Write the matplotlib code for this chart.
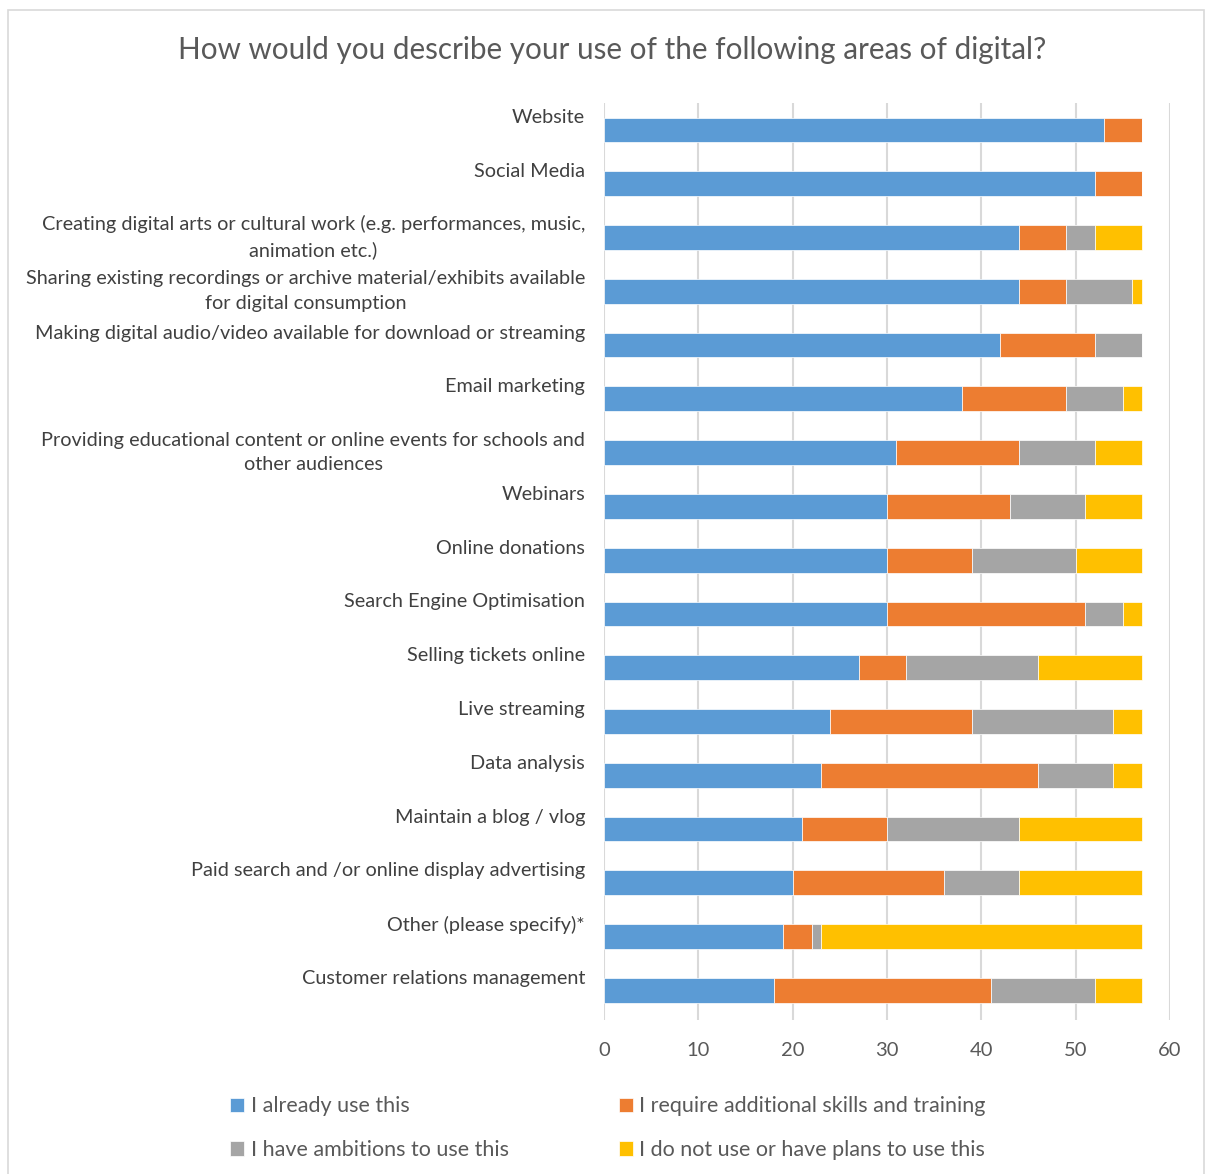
import matplotlib
matplotlib.use("Agg")
import matplotlib.pyplot as plt
from matplotlib.patches import Rectangle
import matplotlib.transforms as mtransforms

plt.rcParams['font.family'] = ['Lato', 'DejaVu Sans']

categories = [
    "Website",
    "Social Media",
    "Creating digital arts or cultural work (e.g. performances, music,\nanimation etc.)",
    "Sharing existing recordings or archive material/exhibits available\nfor digital consumption",
    "Making digital audio/video available for download or streaming",
    "Email marketing",
    "Providing educational content or online events for schools and\nother audiences",
    "Webinars",
    "Online donations",
    "Search Engine Optimisation",
    "Selling tickets online",
    "Live streaming",
    "Data analysis",
    "Maintain a blog / vlog",
    "Paid search and /or online display advertising",
    "Other (please specify)*",
    "Customer relations management",
]

already_use = [53, 52, 44, 44, 42, 38, 31, 30, 30, 30, 27, 24, 23, 21, 20, 19, 18]
require_training = [4, 5, 5, 5, 10, 11, 13, 13, 9, 21, 5, 15, 23, 9, 16, 3, 23]
ambitions = [0, 0, 3, 7, 5, 6, 8, 8, 11, 4, 14, 15, 8, 14, 8, 1, 11]
no_plans = [0, 0, 5, 1, 0, 2, 5, 6, 7, 2, 11, 3, 3, 13, 13, 34, 5]

series_names = [
    "I already use this",
    "I require additional skills and training",
    "I have ambitions to use this",
    "I do not use or have plans to use this",
]
colors = ["#5B9BD5", "#ED7D31", "#A5A5A5", "#FFC000"]
x_ticks = [0, 10, 20, 30, 40, 50, 60]

W, H = 1206, 1174
fig = plt.figure(figsize=(W / 100, H / 100), dpi=100)

# outer chart border
fig.patches.append(Rectangle((8 / W, -0.01), (1204 - 8) / W, 1.01 - 10 / H,
                             transform=fig.transFigure, fill=False,
                             edgecolor="#D9D9D9", linewidth=1.2))

ax = fig.add_axes([604 / W, 1 - 1020 / H, (1170 - 604) / W, (1020 - 103) / H])

y = list(range(len(categories)))
left = [0] * len(categories)
series = [already_use, require_training, ambitions, no_plans]
handles = []
for vals, name, col in zip(series, series_names, colors):
    b = ax.barh(y, vals, left=left, height=0.46, color=col, label=name,
                edgecolor="white", linewidth=0.5, zorder=3)
    handles.append(b)
    left = [l + v for l, v in zip(left, vals)]

ax.set_xlim(0, 60)
ax.set_ylim(len(categories) - 1 + 0.55, -0.5)
ax.set_xticks(x_ticks)
ax.set_xticklabels([str(t) for t in x_ticks], fontsize=14.5, color="#595959")
ax.tick_params(axis='x', length=0, pad=16)
ax.set_yticks([])
for s in ax.spines.values():
    s.set_visible(False)
ax.grid(axis='x', color="#D9D9D9", linewidth=1.5, zorder=0)

# y category labels (Excel-style: single-line labels sit at first-line position)
trans = mtransforms.blended_transform_factory(ax.transAxes, ax.transData)
for i, lab in enumerate(categories):
    if "\n" in lab:
        off = mtransforms.ScaledTranslation(-19 / 100, 0, fig.dpi_scale_trans)
    else:
        off = mtransforms.ScaledTranslation(-19 / 100, 12 / 100, fig.dpi_scale_trans)
    ax.text(0, i, lab, transform=trans + off, ha='right', va='center',
            multialignment='center', fontsize=14.3, color="#404040",
            linespacing=1.55)

fig.text(612 / W, 1 - 50 / H,
         "How would you describe your use of the following areas of digital?",
         ha='center', va='center', fontsize=21.3, color="#595959")

# row-major legend order (matplotlib fills columns first)
order = [0, 2, 1, 3]
leg = fig.legend(handles=[handles[k] for k in order],
                 labels=[series_names[k] for k in order], loc='upper left',
                 bbox_to_anchor=(211 / W, 1 - 1077 / H), ncol=2, frameon=False,
                 fontsize=15.5, handlelength=0.65, handleheight=0.65,
                 handletextpad=0.3, columnspacing=5.1, labelspacing=1.1,
                 labelcolor="#595959")

fig.savefig("out.png", dpi=100, facecolor="white")
